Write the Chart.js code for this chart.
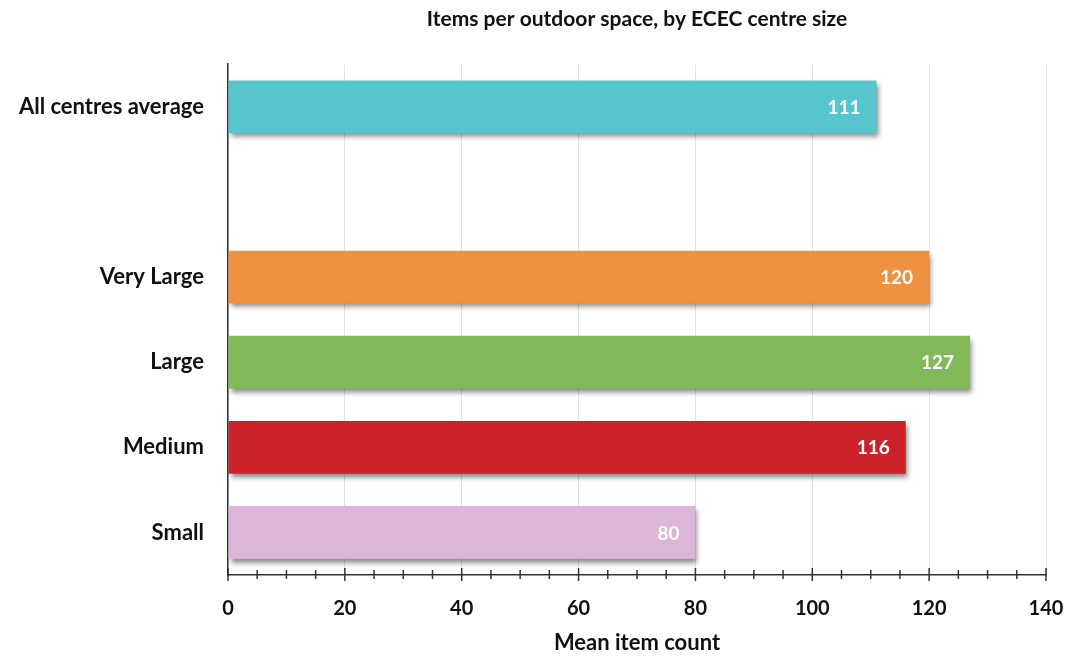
<!DOCTYPE html>
<html lang="en">
<head>
<meta charset="UTF-8">
<title>Items per outdoor space</title>
<style>
  html, body { margin: 0; padding: 0; background: #fff; }
  #wrap { width: 1082px; height: 656px; }
</style>
</head>
<body>
<div id="wrap"><canvas id="chart"></canvas></div>
<script src="https://cdn.jsdelivr.net/npm/chart.js"></script>
<script>
// chart values
const categories = ["All centres average", "", "Very Large", "Large", "Medium", "Small"];
const meanItems = [111, null, 120, 127, 116, 80];
const barColours = ["#56C5CD", "#ffffff", "#F0913F", "#82BA5A", "#CC2229", "#DDB5D6"];
const xTicks = [0, 20, 40, 60, 80, 100, 120, 140];
const minorStep = 5;

const FONT = "Lato, 'Open Sans', sans-serif";

// soft drop shadow under the bars
const barShadow = {
  id: "barShadow",
  beforeDatasetsDraw(chart) {
    const c = chart.ctx;
    c.save();
    c.shadowColor = "rgba(0,0,0,0.45)";
    c.shadowOffsetX = 2;
    c.shadowOffsetY = 4;
    c.shadowBlur = 5;
  },
  afterDatasetsDraw(chart) {
    chart.ctx.restore();
  }
};

// white value labels inside the bar end
const valueLabels = {
  id: "valueLabels",
  afterDatasetsDraw(chart) {
    const c = chart.ctx;
    const meta = chart.getDatasetMeta(0);
    c.save();
    c.font = "bold 19px " + FONT;
    c.fillStyle = "#ffffff";
    c.textAlign = "right";
    c.textBaseline = "middle";
    meta.data.forEach((bar, i) => {
      if (meanItems[i] == null) return;
      c.fillText(String(meanItems[i]), bar.x - 16, bar.y + 1);
    });
    c.restore();
  }
};

// major + minor tick marks across the x axis line
const axisTicks = {
  id: "axisTicks",
  afterDraw(chart) {
    const x = chart.scales.x;
    const c = chart.ctx;
    const y0 = chart.chartArea.bottom;
    c.save();
    c.strokeStyle = "#333";
    c.lineWidth = 1.5;
    for (let v = x.min; v <= x.max; v += minorStep) {
      const px = x.getPixelForValue(v);
      const major = xTicks.includes(v);
      c.beginPath();
      c.moveTo(px, y0 - (major ? 7 : 5));
      c.lineTo(px, y0 + (major ? 6 : 4));
      c.stroke();
    }
    c.restore();
  }
};

new Chart(document.getElementById("chart"), {
  type: "bar",
  data: {
    labels: categories,
    datasets: [{
      data: meanItems,
      backgroundColor: barColours,
      borderWidth: 0,
      barPercentage: 0.62,
      categoryPercentage: 1.0
    }]
  },
  options: {
    indexAxis: "y",
    responsive: true,
    maintainAspectRatio: false,
    animation: false,
    layout: { padding: { left: 0, right: 36, top: 0, bottom: 0 } },
    plugins: {
      legend: { display: false },
      tooltip: { enabled: false },
      title: {
        display: true,
        text: "Items per outdoor space, by ECEC centre size",
        fullSize: false,
        color: "#111",
        font: { family: FONT, size: 21, weight: "bold" },
        padding: { top: 7, bottom: 32 }
      }
    },
    scales: {
      x: {
        min: 0,
        max: 140,
        afterFit(scale) {
          scale.height = 81;
          scale.paddingLeft = 0;
          scale.paddingRight = 0;
        },
        ticks: {
          stepSize: 20,
          color: "#111",
          padding: 22,
          font: { family: FONT, size: 20, weight: "bold" }
        },
        grid: { color: "#e3e3e3", drawTicks: false },
        border: { display: true, color: "#333", width: 1.5 },
        title: {
          display: true,
          text: "Mean item count",
          color: "#111",
          font: { family: FONT, size: 22, weight: "bold" },
          padding: { top: 0, bottom: 0 }
        }
      },
      y: {
        afterFit(scale) { scale.width = 228; },
        ticks: {
          color: "#111",
          padding: 16,
          font: { family: FONT, size: 22, weight: "bold" }
        },
        grid: { display: false },
        border: { display: true, color: "#333", width: 1.5 }
      }
    }
  },
  plugins: [barShadow, valueLabels, axisTicks]
});
</script>
</body>
</html>
